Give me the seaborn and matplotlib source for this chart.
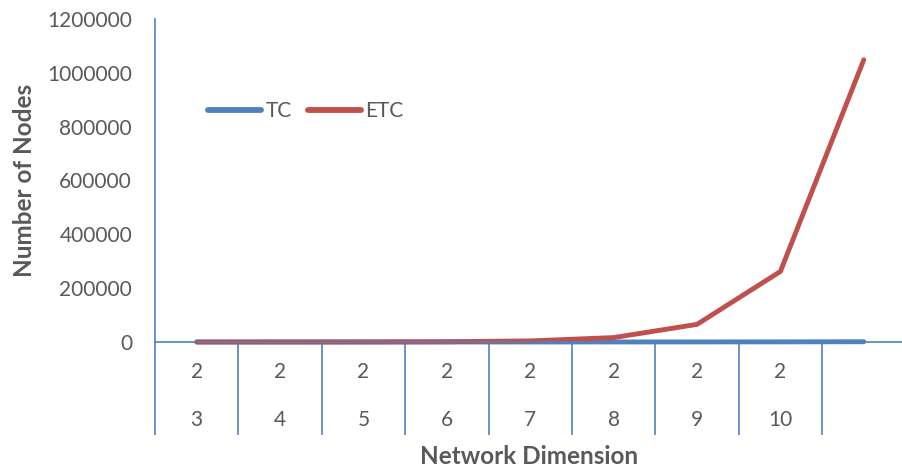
import numpy as np
import pandas as pd
import matplotlib
matplotlib.use("Agg")
import matplotlib.pyplot as plt
from matplotlib.lines import Line2D
import seaborn as sns

# Two-level category labels (base over exponent) for the network dimension
base_labels = ["2", "2", "2", "2", "2", "2", "2", "2", ""]
exponent_labels = ["3", "4", "5", "6", "7", "8", "9", "10", ""]

# Node counts per topology
tc_nodes = [4, 8, 16, 32, 64, 128, 256, 512, 1024]
etc_nodes = [16, 64, 256, 1024, 4096, 16384, 65536, 262144, 1048576]

y_ticks = [0, 200000, 400000, 600000, 800000, 1000000, 1200000]

BLUE = "#4F81BD"
RED = "#C0504D"
GREY = "#595959"

sns.set_theme(style="white")
plt.rcParams["font.family"] = ["Lato", "DejaVu Sans"]

pos = np.arange(len(tc_nodes))
df = pd.DataFrame({
    "pos": np.concatenate([pos, pos]),
    "nodes": tc_nodes + etc_nodes,
    "series": ["TC"] * len(tc_nodes) + ["ETC"] * len(etc_nodes),
})

W, H = 902, 470
fig = plt.figure(figsize=(W / 100, H / 100), dpi=100)
ax = fig.add_axes([155 / W, (H - 342) / H, (905.5 - 155) / W, (342 - 19) / H])

sns.lineplot(data=df, x="pos", y="nodes", hue="series", hue_order=["TC", "ETC"],
             palette={"TC": BLUE, "ETC": RED}, linewidth=3.5, ax=ax,
             legend=False, sort=False)
for ln in ax.get_lines():
    ln.set_solid_capstyle("round")
    ln.set_solid_joinstyle("round")
    ln.set_clip_on(False)

ax.set_xlim(-0.5, len(tc_nodes) - 0.5)
ax.set_ylim(0, 1200000)

for side in ("top", "right"):
    ax.spines[side].set_visible(False)
for side in ("left", "bottom"):
    ax.spines[side].set_color(BLUE)
    ax.spines[side].set_linewidth(1.2)

ax.set_yticks(y_ticks)
ax.set_yticklabels([str(v) for v in y_ticks])
ax.tick_params(axis="y", length=0, pad=16.5, labelsize=15, labelcolor=GREY)

# category boundaries drawn as long minor ticks below the axis
ax.set_xticks([])
ax.set_xticks(np.arange(-0.5, len(tc_nodes) - 1, 1), minor=True)
ax.tick_params(axis="x", which="minor", direction="out", length=67,
               width=1.2, color=BLUE, bottom=True)

for i, (b, e) in enumerate(zip(base_labels, exponent_labels)):
    ax.annotate(b, xy=(i, 0), xycoords=("data", "axes fraction"),
                xytext=(0, -21.6), textcoords="offset points",
                ha="center", va="center", fontsize=15, color=GREY)
    ax.annotate(e, xy=(i, 0), xycoords=("data", "axes fraction"),
                xytext=(0, -56), textcoords="offset points",
                ha="center", va="center", fontsize=15, color=GREY)

ax.set_xlabel("")
ax.set_ylabel("")
fig.text(25 / W, 1 - 180 / H, "Number of Nodes", rotation=90, ha="center",
         va="center", fontsize=17.5, fontweight="bold", color=GREY)
fig.text(529 / W, 1 - 457 / H, "Network Dimension", ha="center",
         va="center", fontsize=17.5, fontweight="bold", color=GREY)

handles = [Line2D([], [], color=BLUE, lw=4.2, solid_capstyle="round"),
           Line2D([], [], color=RED, lw=4.2, solid_capstyle="round")]
leg = fig.legend(handles, ["TC", "ETC"], loc="center left",
                 bbox_to_anchor=(208 / W, 1 - 111 / H), frameon=False,
                 borderpad=0, borderaxespad=0, handlelength=2.55,
                 handletextpad=0.2, columnspacing=0.8, ncol=2, fontsize=15)
for t in leg.get_texts():
    t.set_color(GREY)

fig.savefig("out.png", dpi=100)
